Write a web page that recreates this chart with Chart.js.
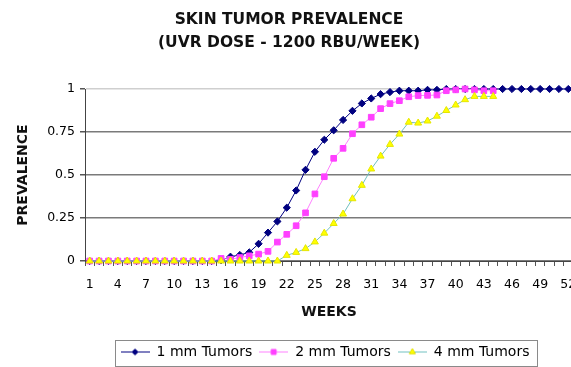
<!DOCTYPE html>
<html>
<head>
<meta charset="utf-8">
<script src="https://cdn.jsdelivr.net/npm/chart.js@4.4.1/dist/chart.umd.min.js"></script>
<style>
  html, body { margin: 0; padding: 0; background: #fff; overflow: hidden; }
  canvas { display: block; }
</style>
</head>
<body>
<canvas id="graphCanvas" width="578" height="367"></canvas>
<script>
// weeks on the x axis
var weeks = ['1','2','3','4','5','6','7','8','9','10','11','12','13','14','15','16','17','18','19','20',
             '21','22','23','24','25','26','27','28','29','30','31','32','33','34','35','36','37','38','39','40',
             '41','42','43','44','45','46','47','48','49','50','51','52'];
var weekTicks = ['1','4','7','10','13','16','19','22','25','28','31','34','37','40','43','46','49','52'];
var prevTicks = [0, 0.25, 0.5, 0.75, 1];

var seriesNames = ['1 mm Tumors', '2 mm Tumors', '4 mm Tumors'];

var tumors1mm = [0,0,0,0,0,0,0,0,0,0,0,0,0,0,
                 0.005,0.025,0.035,0.05,0.1,0.165,0.23,0.31,0.41,0.53,0.635,0.705,0.76,0.82,0.873,0.916,
                 0.945,0.97,0.982,0.99,0.99,0.99,0.995,0.995,
                 1,1,1,1,1,1,1,1,1,1,1,1,1,1];
var tumors2mm = [0,0,0,0,0,0,0,0,0,0,0,0,0,0,
                 0.015,0.01,0.02,0.03,0.04,0.056,0.11,0.155,0.205,0.28,0.39,0.49,0.597,0.655,0.74,0.792,
                 0.836,0.886,0.915,0.932,0.955,0.962,0.963,0.965,0.99,0.995,1,0.995,0.99,0.99,
                 null,null,null,null,null,null,null,null];
var tumors4mm = [0,0,0,0,0,0,0,0,0,0,0,0,0,0,0,0,0,0,0,0,0,
                 0.033,0.05,0.072,0.111,0.162,0.218,0.273,0.362,0.44,0.535,0.61,0.678,0.738,0.807,0.802,
                 0.814,0.842,0.875,0.907,0.938,0.957,0.957,0.957,
                 null,null,null,null,null,null,null,null];

Chart.defaults.font.family = '"DejaVu Sans", Arial, sans-serif';
Chart.defaults.color = '#000';

// little line + marker pictures for the legend
function makeSample(lineColor, style, radius, fill, border) {
    var c = document.createElement('canvas');
    c.width = 29; c.height = 11;
    var g = c.getContext('2d');
    g.strokeStyle = lineColor;
    g.lineWidth = 1;
    g.beginPath(); g.moveTo(0, 5.5); g.lineTo(29, 5.5); g.stroke();
    g.fillStyle = fill;
    g.strokeStyle = border;
    g.lineWidth = 1;
    Chart.helpers.drawPoint(g, {pointStyle: style, radius: radius, rotation: 0, borderWidth: 1}, 14.5, 5.5);
    return c;
}
var samples = [
    makeSample('#000080', 'rectRot', 3, '#000080', '#000080'),
    makeSample('#ff80ff', 'rect', 3.5, '#ff40ff', '#ff40ff'),
    makeSample('#70c0c0', 'triangle', 3.5, '#ffff00', '#e0e000')
];

var legendBox = {
    id: 'legendBox',
    afterLayout: function (chart) {
        // legend sits a little left of the plot centre in the original
        if (chart.legend) {
            chart.legend.left -= 4;
            chart.legend.right -= 4;
        }
    },
    afterDraw: function (chart) {
        var lg = chart.legend;
        if (!lg || !lg.legendHitBoxes || !lg.legendHitBoxes.length) return;
        var hb = lg.legendHitBoxes;
        var l = hb[0].left, r = hb[hb.length - 1].left + hb[hb.length - 1].width;
        var cy = hb[0].top + hb[0].height / 2;
        var ctx = chart.ctx;
        ctx.save();
        ctx.strokeStyle = '#8a8a8a';
        ctx.lineWidth = 1;
        ctx.strokeRect(Math.round(l - 6) + 0.5, Math.round(cy - 12) + 0.5, Math.round(r - l + 13), 26);
        ctx.restore();
    }
};

var chartdata = {
    labels: weeks,
    datasets: [
        {
            label: seriesNames[0],
            data: tumors1mm,
            borderColor: '#000080',
            backgroundColor: '#000080',
            borderWidth: 1,
            pointStyle: 'rectRot',
            pointRadius: 3.6,
            pointBackgroundColor: '#000080',
            pointBorderColor: '#000080',
            pointBorderWidth: 1,
            tension: 0,
            clip: false,
            order: 2
        },
        {
            label: seriesNames[1],
            data: tumors2mm,
            borderColor: '#ff80ff',
            backgroundColor: '#ff40ff',
            borderWidth: 1,
            pointStyle: 'rect',
            pointRadius: 4,
            pointBackgroundColor: '#ff40ff',
            pointBorderColor: '#ff40ff',
            pointBorderWidth: 1,
            tension: 0,
            clip: false,
            order: 1
        },
        {
            label: seriesNames[2],
            data: tumors4mm,
            borderColor: '#70c0c0',
            backgroundColor: '#ffff00',
            borderWidth: 1,
            pointStyle: 'triangle',
            pointRadius: 4,
            pointBackgroundColor: '#ffff00',
            pointBorderColor: '#e6e600',
            pointBorderWidth: 1,
            tension: 0,
            clip: false,
            order: 0
        }
    ]
};

var graphTarget = document.getElementById('graphCanvas');

var lineGraph = new Chart(graphTarget, {
    type: 'line',
    data: chartdata,
    options: {
        responsive: false,
        animation: false,
        events: [],
        layout: { padding: { left: 0, right: 0, top: 0, bottom: -2 } },
        plugins: {
            tooltip: { enabled: false },
            title: {
                display: true,
                text: ['SKIN TUMOR PREVALENCE', '(UVR DOSE - 1200 RBU/WEEK)'],
                color: '#111',
                font: { size: 15.5, weight: 'bold', lineHeight: 1.484 },
                padding: { top: 8.5, bottom: 34.5 }
            },
            legend: {
                display: true,
                position: 'bottom',
                fullSize: false,
                labels: {
                    usePointStyle: true,
                    pointStyleWidth: 29,
                    padding: 7,
                    color: '#000',
                    font: { size: 14 },
                    sort: function (a, b) { return a.datasetIndex - b.datasetIndex; },
                    generateLabels: function (chart) {
                        var items = Chart.defaults.plugins.legend.labels.generateLabels(chart);
                        items.forEach(function (it) { it.pointStyle = samples[it.datasetIndex]; });
                        return items;
                    }
                }
            }
        },
        scales: {
            x: {
                type: 'category',
                offset: true,
                afterFit: function (scale) {
                    scale.height = 77;
                    scale.paddingLeft = 0;
                    scale.paddingRight = 0;
                },
                grid: {
                    display: true,
                    offset: true,
                    drawOnChartArea: false,
                    drawTicks: true,
                    tickLength: 5,
                    color: '#555'
                },
                border: { display: true, color: '#444', width: 1 },
                ticks: {
                    autoSkip: false,
                    maxRotation: 0,
                    minRotation: 0,
                    padding: 11,
                    font: { size: 12.5 },
                    callback: function (val, i) {
                        var lab = weeks[i];
                        return weekTicks.indexOf(lab) >= 0 ? lab : '';
                    }
                },
                title: {
                    display: true,
                    text: 'WEEKS',
                    color: '#111',
                    font: { size: 14, weight: 'bold' },
                    padding: { top: 0, bottom: 17.6 }
                }
            },
            y: {
                min: 0,
                max: 1,
                afterFit: function (scale) { scale.width = 85; },
                afterBuildTicks: function (scale) {
                    scale.ticks = prevTicks.map(function (v) { return { value: v }; });
                },
                grid: {
                    drawTicks: true,
                    tickLength: 5,
                    tickColor: '#555',
                    lineWidth: 1.5,
                    color: function (ctx) {
                        return ctx.tick && ctx.tick.value === 1 ? '#cfcfcf' : '#7a7a7a';
                    }
                },
                border: { display: true, color: '#444', width: 1 },
                ticks: {
                    padding: 5,
                    font: { size: 12.5 },
                    callback: function (v) { return String(v); }
                },
                title: {
                    display: true,
                    text: 'PREVALENCE',
                    color: '#111',
                    font: { size: 14, weight: 'bold' },
                    padding: { top: 14.5, bottom: 0 }
                }
            }
        }
    },
    plugins: [legendBox]
});
</script>
</body>
</html>
